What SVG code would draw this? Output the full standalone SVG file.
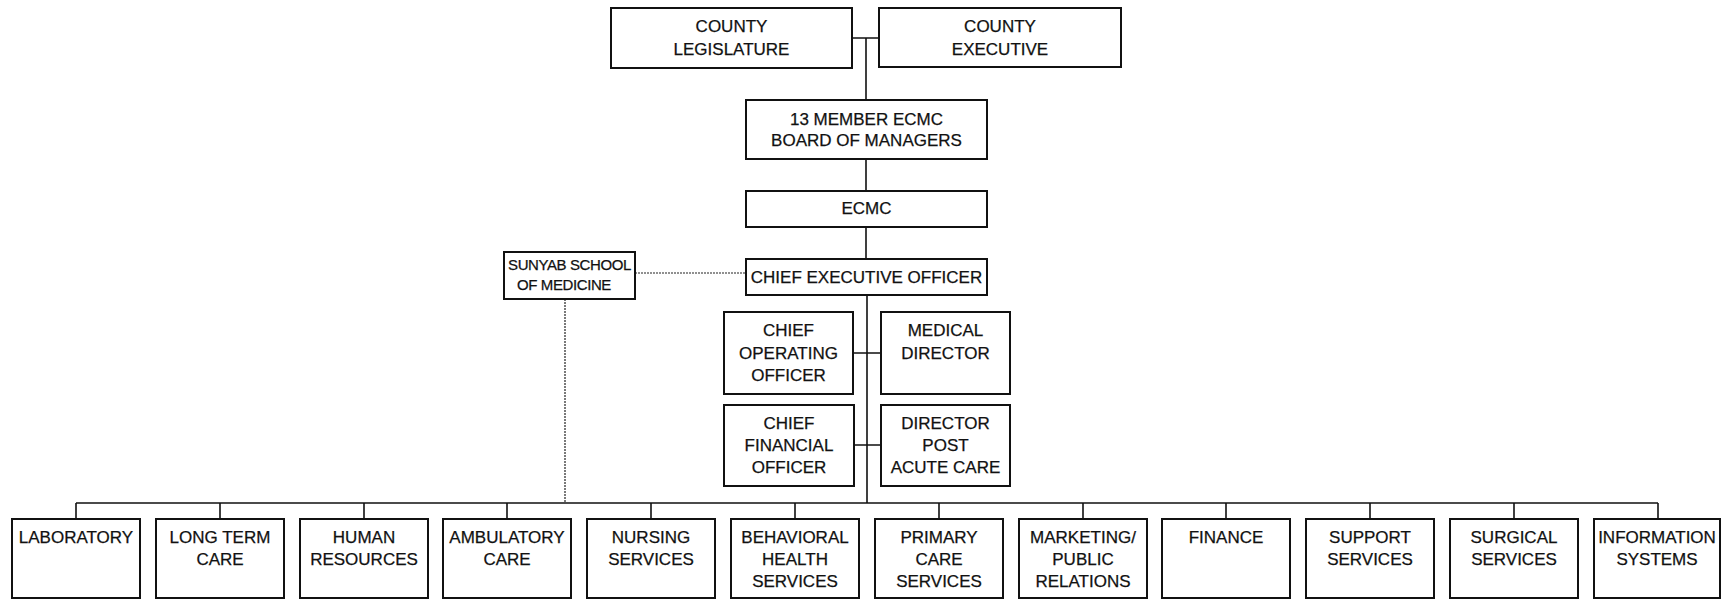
<svg xmlns="http://www.w3.org/2000/svg" width="1724" height="600" viewBox="0 0 1724 600">
<style>
.box{fill:#fff;stroke:#111;stroke-width:2}
.ln{fill:none;stroke:#111;stroke-width:1.6}
.dot{fill:none;stroke:#222;stroke-width:1.2;stroke-dasharray:2 1}
text{font-family:"Liberation Sans",Arial,sans-serif;font-size:17px;fill:#111;stroke:#111;stroke-width:0.25;text-anchor:middle}
.sm{font-size:15px;letter-spacing:-0.4px}
</style>
<rect width="1724" height="600" fill="#fff"/>
<g id="connectors">
<path class="ln" d="M852 38H879M866 38V100M866 159V191M866 227V259M867 295V503M853 353H881M854 445H881M76 503H1658"/>
<path class="ln" d="M76 503V519M220 503V519M364 503V519M507 503V519M651 503V519M795 503V519M939 503V519M1083 503V519M1226 503V519M1370 503V519M1514 503V519M1658 503V519"/>
<path class="dot" d="M635 273H746M565 299V503"/>
</g>
<g id="county-legislature"><rect class="box" x="611" y="8" width="241" height="60"/><text x="731.5" y="32">COUNTY</text><text x="731.5" y="55">LEGISLATURE</text></g>
<g id="county-executive"><rect class="box" x="879" y="8" width="242" height="59"/><text x="1000" y="32">COUNTY</text><text x="1000" y="55">EXECUTIVE</text></g>
<g id="board"><rect class="box" x="746" y="100" width="241" height="59"/><text x="866.5" y="125">13 MEMBER ECMC</text><text x="866.5" y="146">BOARD OF MANAGERS</text></g>
<g id="ecmc"><rect class="box" x="746" y="191" width="241" height="36"/><text x="866.5" y="214">ECMC</text></g>
<g id="ceo"><rect class="box" x="746" y="259" width="241" height="36"/><text x="866.5" y="283">CHIEF EXECUTIVE OFFICER</text></g>
<g id="sunyab"><rect class="box" x="504" y="252" width="131" height="47"/><text class="sm" x="569.5" y="270">SUNYAB SCHOOL</text><text class="sm" x="564" y="290">OF MEDICINE</text></g>
<g id="coo"><rect class="box" x="724" y="312" width="129" height="82"/><text x="788.5" y="336">CHIEF</text><text x="788.5" y="359">OPERATING</text><text x="788.5" y="381">OFFICER</text></g>
<g id="medical-director"><rect class="box" x="881" y="312" width="129" height="82"/><text x="945.5" y="336">MEDICAL</text><text x="945.5" y="359">DIRECTOR</text></g>
<g id="cfo"><rect class="box" x="724" y="405" width="130" height="81"/><text x="789" y="429">CHIEF</text><text x="789" y="451">FINANCIAL</text><text x="789" y="473">OFFICER</text></g>
<g id="director-post-acute"><rect class="box" x="881" y="405" width="129" height="81"/><text x="945.5" y="429">DIRECTOR</text><text x="945.5" y="451">POST</text><text x="945.5" y="473">ACUTE CARE</text></g>
<g id="laboratory"><rect class="box" x="12" y="519" width="128" height="79"/><text x="76" y="543">LABORATORY</text></g>
<g id="long-term-care"><rect class="box" x="156" y="519" width="128" height="79"/><text x="220" y="543">LONG TERM</text><text x="220" y="565">CARE</text></g>
<g id="human-resources"><rect class="box" x="300" y="519" width="128" height="79"/><text x="364" y="543">HUMAN</text><text x="364" y="565">RESOURCES</text></g>
<g id="ambulatory-care"><rect class="box" x="443" y="519" width="128" height="79"/><text x="507" y="543">AMBULATORY</text><text x="507" y="565">CARE</text></g>
<g id="nursing-services"><rect class="box" x="587" y="519" width="128" height="79"/><text x="651" y="543">NURSING</text><text x="651" y="565">SERVICES</text></g>
<g id="behavioral-health"><rect class="box" x="731" y="519" width="128" height="79"/><text x="795" y="543">BEHAVIORAL</text><text x="795" y="565">HEALTH</text><text x="795" y="587">SERVICES</text></g>
<g id="primary-care"><rect class="box" x="875" y="519" width="128" height="79"/><text x="939" y="543">PRIMARY</text><text x="939" y="565">CARE</text><text x="939" y="587">SERVICES</text></g>
<g id="marketing"><rect class="box" x="1019" y="519" width="128" height="79"/><text x="1083" y="543">MARKETING/</text><text x="1083" y="565">PUBLIC</text><text x="1083" y="587">RELATIONS</text></g>
<g id="finance"><rect class="box" x="1162" y="519" width="128" height="79"/><text x="1226" y="543">FINANCE</text></g>
<g id="support-services"><rect class="box" x="1306" y="519" width="128" height="79"/><text x="1370" y="543">SUPPORT</text><text x="1370" y="565">SERVICES</text></g>
<g id="surgical-services"><rect class="box" x="1450" y="519" width="128" height="79"/><text x="1514" y="543">SURGICAL</text><text x="1514" y="565">SERVICES</text></g>
<g id="information-systems"><rect class="box" x="1594" y="519" width="126" height="79"/><text x="1657" y="543">INFORMATION</text><text x="1657" y="565">SYSTEMS</text></g>
</svg>
